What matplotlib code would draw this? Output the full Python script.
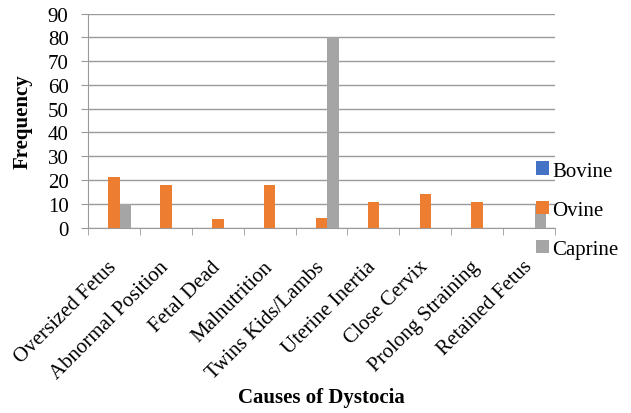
import matplotlib
matplotlib.use("Agg")
import matplotlib.pyplot as plt
import numpy as np
from matplotlib.patches import Patch

plt.rcParams['font.family'] = ['Liberation Serif', 'DejaVu Serif']

causes = ["Oversized Fetus", "Abnormal Position", "Fetal Dead", "Malnutrition",
          "Twins Kids/Lambs", "Uterine Inertia", "Close Cervix",
          "Prolong Straining", "Retained Fetus"]
bovine = [0, 0, 0, 0, 0, 0, 0, 0, 0]
ovine = [21.4, 17.9, 3.6, 17.9, 4.0, 10.7, 14.3, 10.7, 0]
caprine = [10, 0, 0, 0, 80, 0, 0, 0, 10]
series_names = ["Bovine", "Ovine", "Caprine"]
colors = ["#4472C4", "#ED7D31", "#A5A5A5"]

fig = plt.figure(figsize=(6.31, 4.14), dpi=100)
ax = fig.add_axes([0.1395, 0.448, 0.7401, 0.5165])

x = np.arange(len(causes))
w = 0.222
for i, (vals, c) in enumerate(zip([bovine, ovine, caprine], colors)):
    ax.bar(x + (i - 1) * w, vals, width=w, color=c, zorder=3)

ax.set_xlim(-0.5, len(causes) - 0.5)
ax.set_ylim(0, 90)
ax.set_yticks(np.arange(0, 91, 10))
ax.yaxis.grid(True, color="#9a9a9a", linewidth=1.0, zorder=0)
ax.set_axisbelow(True)

for s in ["top", "right"]:
    ax.spines[s].set_visible(False)
ax.spines["left"].set_color("#9a9a9a")
ax.spines["bottom"].set_color("#9a9a9a")

ax.tick_params(axis="y", length=5, color="#9a9a9a", labelsize=15, pad=9)
ax.set_xticks(np.arange(len(causes) + 1) - 0.5, minor=True)
ax.tick_params(axis="x", which="minor", length=5, color="#9a9a9a", direction="out")
ax.set_xticks(x)
ax.set_xticklabels(causes, rotation=45, ha="right", va="center",
                   rotation_mode="anchor", fontsize=15)
ax.tick_params(axis="x", which="major", length=0, pad=26)

fig.text(23 / 631, 1 - 122 / 414, "Frequency", rotation=90, ha="center", va="center",
         fontsize=15, fontweight="bold")
fig.text(321 / 631, 1 - 398 / 414, "Causes of Dystocia", ha="center", va="center",
         fontsize=15, fontweight="bold")

handles = [Patch(facecolor=c, label=n) for n, c in zip(series_names, colors)]
fig.legend(handles=handles, loc="center left", bbox_to_anchor=(0.849, 0.49),
           frameon=False, fontsize=15, handlelength=0.65, handleheight=0.65,
           handletextpad=0.15, labelspacing=0.95, borderaxespad=0, borderpad=0)

fig.savefig("out.png", dpi=100)
